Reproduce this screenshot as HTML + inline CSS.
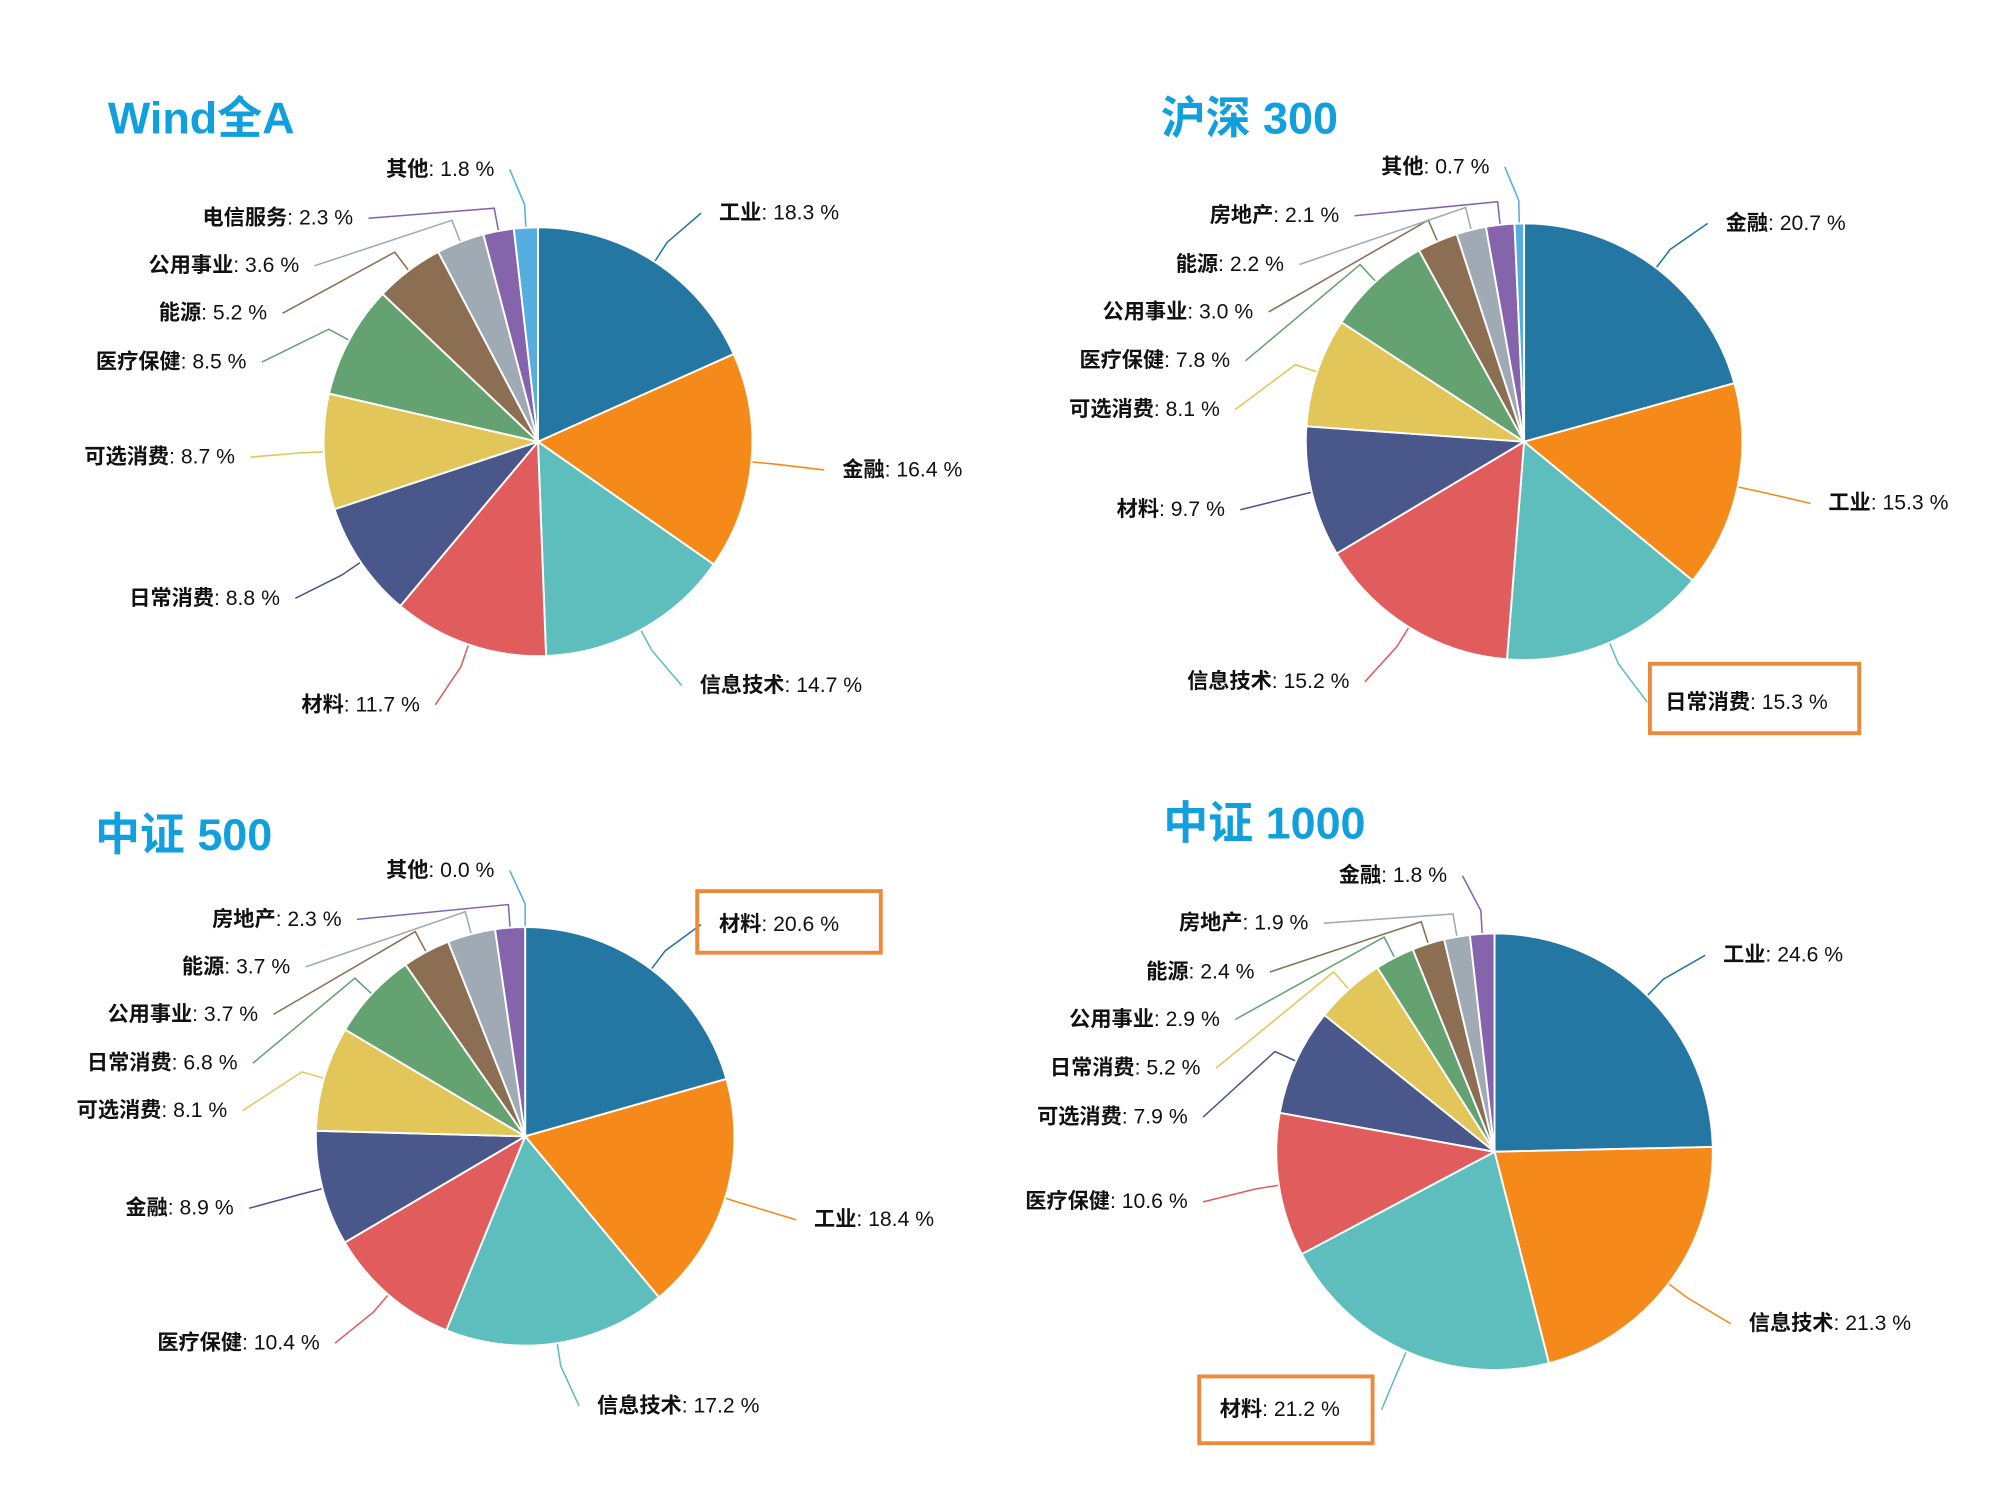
<!DOCTYPE html>
<html><head><meta charset="utf-8">
<style>
html,body{margin:0;padding:0;background:#fff;}
svg{display:block;}
text{font-family:"Liberation Sans","Noto Sans CJK SC",sans-serif;}
</style></head>
<body>
<svg id="s" width="2003" height="1492" viewBox="0 0 1560 1162" preserveAspectRatio="none" xmlns="http://www.w3.org/2000/svg"></svg>
<script>
var C=['#2477a2','#f58a1b','#5ebebe','#e05c5d','#4a578b','#e2c65a','#64a272','#8c6e53','#a0aab4','#8664ac','#56aede'];
var charts=[
 {t:'Wind全A',tx:84,ty:104,cx:419,cy:344,r:167,d:[
  ['工业',18.3,560,171,0],['金融',16.4,656,371,0],['信息技术',14.7,545,539,0],['材料',11.7,327,554,1],['日常消费',8.8,218,471,1],['可选消费',8.7,183,361,1],['医疗保健',8.5,192,287,1],['能源',5.2,208,249,1],['公用事业',3.6,233,212,1],['电信服务',2.3,275,175,1],['其他',1.8,385,137,1]]},
 {t:'沪深 300',tx:904,ty:104,cx:1187,cy:344,r:170,d:[
  ['金融',20.7,1344,179,0],['工业',15.3,1424,397,0],['日常消费',15.3,1297,552,0,[1285,517,163,54]],['信息技术',15.2,1051,536,1],['材料',9.7,954,402,1],['可选消费',8.1,950,324,1],['医疗保健',7.8,958,286,1],['公用事业',3.0,976,248,1],['能源',2.2,1000,211,1],['房地产',2.1,1043,173,1],['其他',0.7,1160,135,1]]},
 {t:'中证 500',tx:74,ty:662,cx:409,cy:885,r:163,d:[
  ['材料',20.6,560,725,0,[543,694,143,48]],['工业',18.4,634,955,0],['信息技术',17.2,465,1100,0],['医疗保健',10.4,249,1051,1],['金融',8.9,182,946,1],['可选消费',8.1,177,870,1],['日常消费',6.8,185,833,1],['公用事业',3.7,201,795,1],['能源',3.7,226,758,1],['房地产',2.3,266,721,1],['其他',0.0,385,683,1]]},
 {t:'中证 1000',tx:906,ty:653,cx:1164,cy:897,r:170,d:[
  ['工业',24.6,1342,749,0],['信息技术',21.3,1362,1036,0],['材料',21.2,950,1103,0,[934,1072,135,52],1076],['医疗保健',10.6,925,941,1],['可选消费',7.9,925,875,1],['日常消费',5.2,935,837,1],['公用事业',2.9,950,799,1],['能源',2.4,977,762,1],['房地产',1.9,1019,724,1],['金融',1.8,1127,687,1]]}
];
var s='';
function P(cx,cy,r,a){return [cx+r*Math.sin(a),cy-r*Math.cos(a)];}
charts.forEach(function(c){
 s+='<text x="'+c.tx+'" y="'+c.ty+'" font-size="35" font-weight="bold" fill="#129fde">'+c.t+'</text>';
 var tot=0;c.d.forEach(function(d){tot+=d[1];});
 var a=0,lines='',labels='',slices='';
 c.d.forEach(function(d,i){
  var col=C[i];var sw=d[1]/tot*2*Math.PI;var a2=a+sw;
  var p1=P(c.cx,c.cy,c.r,a),p2=P(c.cx,c.cy,c.r,a2);
  if(sw>0) slices+='<path d="M'+c.cx+','+c.cy+' L'+p1[0]+','+p1[1]+' A'+c.r+','+c.r+' 0 '+(sw>Math.PI?1:0)+' 1 '+p2[0]+','+p2[1]+' Z" fill="'+col+'" stroke="#fff" stroke-width="1.5"/>';
  var m=a+sw/2;var e=P(c.cx,c.cy,c.r,m),e2=P(c.cx,c.cy,c.r+18,m);
  var lx=d[4]?d[2]+12:d[2]-14, ly=d[3]-5;
  if(d[6]) lx=d[6];
  lines+='<polyline points="'+e[0]+','+e[1]+' '+e2[0]+','+e2[1]+' '+lx+','+ly+'" fill="none" stroke="'+col+'" stroke-width="1.2"/>';
  var anchor=d[4]?'end':'start';
  labels+='<text x="'+d[2]+'" y="'+d[3]+'" font-size="16.5" text-anchor="'+anchor+'" fill="#111"><tspan font-weight="bold">'+d[0]+'</tspan>: '+d[1].toFixed(1)+' %</text>';
  if(d[5]){var b=d[5];labels+='<rect x="'+b[0]+'" y="'+b[1]+'" width="'+b[2]+'" height="'+b[3]+'" fill="none" stroke="#f0883a" stroke-width="3"/>';}
  a=a2;
 });
 s+=lines+slices+labels;
});
document.getElementById('s').innerHTML=s;
</script>
</body></html>
